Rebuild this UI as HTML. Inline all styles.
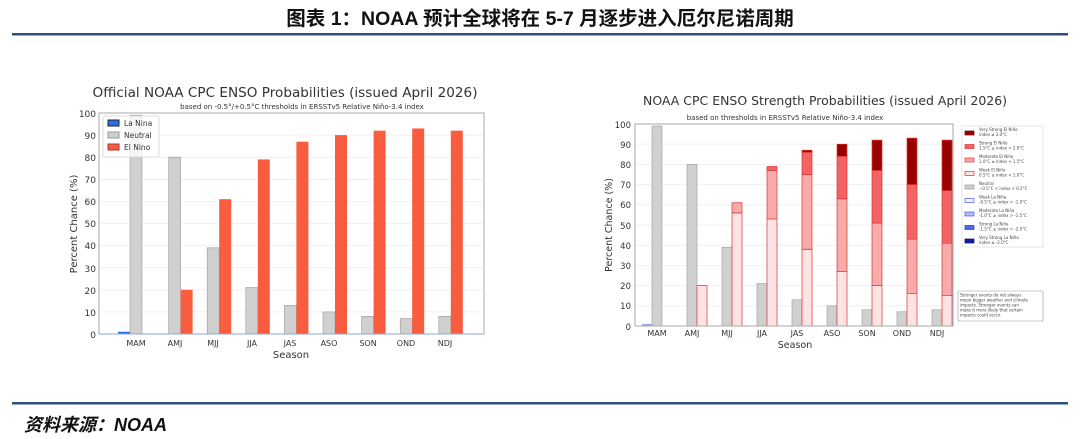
<!DOCTYPE html>
<html><head><meta charset="utf-8"><style>
body{margin:0;width:1080px;height:439px;background:#fff;overflow:hidden}
svg{display:block}
.t{font-family:"DejaVu Sans","Liberation Sans",sans-serif}
.c{font-family:"Liberation Sans","Noto Sans CJK SC",sans-serif}
</style></head><body>
<svg width="1080" height="439" viewBox="0 0 1080 439" xmlns="http://www.w3.org/2000/svg">
<text x="540" y="25" text-anchor="middle" class="c" font-size="19.5" font-weight="bold" fill="#111">图表 1：NOAA 预计全球将在 5-7 月逐步进入厄尔尼诺周期</text>
<rect x="12" y="33" width="1056" height="2.5" fill="#2f4f7a"/>
<rect x="12" y="402" width="1056" height="2.5" fill="#2f4f7a"/>
<text x="24" y="431" class="c" font-size="18" font-weight="bold" font-style="italic" fill="#111">资料来源：NOAA</text>

<!-- LEFT CHART -->
<g class="t" fill="#333">
<text x="285" y="97" text-anchor="middle" font-size="13" textLength="385" lengthAdjust="spacingAndGlyphs">Official NOAA CPC ENSO Probabilities (issued April 2026)</text>
<text x="302" y="109" text-anchor="middle" font-size="7">based on -0.5°/+0.5°C thresholds in ERSSTv5 Relative Niño-3.4 index</text>
</g>
<g stroke="#eee" stroke-width="0.8">
<line x1="99" x2="484" y1="135.1" y2="135.1"/><line x1="99" x2="484" y1="157.2" y2="157.2"/><line x1="99" x2="484" y1="179.3" y2="179.3"/><line x1="99" x2="484" y1="201.4" y2="201.4"/><line x1="99" x2="484" y1="223.5" y2="223.5"/><line x1="99" x2="484" y1="245.6" y2="245.6"/><line x1="99" x2="484" y1="267.7" y2="267.7"/><line x1="99" x2="484" y1="289.8" y2="289.8"/><line x1="99" x2="484" y1="311.9" y2="311.9"/>
</g>
<g transform="translate(0,334) scale(1,-2.21)">
<g fill="#d0d0d0" stroke="#999" stroke-width="0.6">
<rect x="130" y="0" width="12" height="99" vector-effect="non-scaling-stroke"/>
<rect x="168.6" y="0" width="12" height="80" vector-effect="non-scaling-stroke"/>
<rect x="207.2" y="0" width="12" height="39" vector-effect="non-scaling-stroke"/>
<rect x="245.8" y="0" width="12" height="21" vector-effect="non-scaling-stroke"/>
<rect x="284.4" y="0" width="12" height="13" vector-effect="non-scaling-stroke"/>
<rect x="323" y="0" width="12" height="10" vector-effect="non-scaling-stroke"/>
<rect x="361.6" y="0" width="12" height="8" vector-effect="non-scaling-stroke"/>
<rect x="400.2" y="0" width="12" height="7" vector-effect="non-scaling-stroke"/>
<rect x="438.8" y="0" width="12" height="8" vector-effect="non-scaling-stroke"/>
</g>
<g fill="#fa5c3f">
<rect x="180.6" y="0" width="12" height="20"/>
<rect x="219.2" y="0" width="12" height="61"/>
<rect x="257.8" y="0" width="12" height="79"/>
<rect x="296.4" y="0" width="12" height="87"/>
<rect x="335" y="0" width="12" height="90"/>
<rect x="373.6" y="0" width="12" height="92"/>
<rect x="412.2" y="0" width="12" height="93"/>
<rect x="450.8" y="0" width="12" height="92"/>
</g>
<rect x="118" y="0" width="12" height="1" fill="#2e6fe0"/>
</g>
<rect x="99" y="113" width="385" height="221" fill="none" stroke="#aaa" stroke-width="1"/>
<line x1="99" x2="484" y1="334" y2="334" stroke="#8fa8d0" stroke-width="1"/>
<rect x="103" y="116" width="56" height="41" rx="2" fill="#fff" fill-opacity="0.8" stroke="#ddd"/>
<rect x="108" y="120" width="11" height="6" fill="#2e6fe0" stroke="#224"/>
<rect x="108" y="132" width="11" height="6" fill="#d0d0d0" stroke="#999"/>
<rect x="108" y="144" width="11" height="6" fill="#fa5c3f" stroke="#a33"/>
<g class="t" font-size="7.5" fill="#333">
<text x="124" y="126">La Nina</text><text x="124" y="138">Neutral</text><text x="124" y="150">El Nino</text>
</g>
<g class="t" font-size="9" fill="#333" text-anchor="end">
<text x="96" y="117">100</text><text x="96" y="139">90</text><text x="96" y="161">80</text><text x="96" y="183">70</text><text x="96" y="205">60</text><text x="96" y="227">50</text><text x="96" y="249">40</text><text x="96" y="272">30</text><text x="96" y="294">20</text><text x="96" y="316">10</text><text x="96" y="338">0</text>
</g>
<g class="t" font-size="8" fill="#333" text-anchor="middle">
<text x="136" y="346">MAM</text><text x="175" y="346">AMJ</text><text x="213" y="346">MJJ</text><text x="252" y="346">JJA</text><text x="290" y="346">JAS</text><text x="329" y="346">ASO</text><text x="368" y="346">SON</text><text x="406" y="346">OND</text><text x="445" y="346">NDJ</text>
<text x="291" y="358" font-size="10">Season</text>
</g>
<text class="t" font-size="10" fill="#333" text-anchor="middle" transform="translate(77,224) rotate(-90)">Percent Chance (%)</text>

<!-- RIGHT CHART -->
<g class="t" fill="#333">
<text x="825" y="105" text-anchor="middle" font-size="12.5" textLength="364" lengthAdjust="spacingAndGlyphs">NOAA CPC ENSO Strength Probabilities (issued April 2026)</text>
<text x="785" y="120" text-anchor="middle" font-size="7">based on thresholds in ERSSTv5 Relative Niño-3.4 index</text>
</g>
<g stroke="#eee" stroke-width="0.8">
<line x1="635" x2="953" y1="144.2" y2="144.2"/><line x1="635" x2="953" y1="164.4" y2="164.4"/><line x1="635" x2="953" y1="184.6" y2="184.6"/><line x1="635" x2="953" y1="204.8" y2="204.8"/><line x1="635" x2="953" y1="225" y2="225"/><line x1="635" x2="953" y1="245.2" y2="245.2"/><line x1="635" x2="953" y1="265.4" y2="265.4"/><line x1="635" x2="953" y1="285.6" y2="285.6"/><line x1="635" x2="953" y1="305.8" y2="305.8"/>
</g>
<g transform="translate(0,326) scale(1,-2.02)">
<g fill="#d0d0d0" stroke="#999" stroke-width="0.6">
<rect x="652" y="0" width="10" height="99" vector-effect="non-scaling-stroke"/>
<rect x="687" y="0" width="10" height="80" vector-effect="non-scaling-stroke"/>
<rect x="722" y="0" width="10" height="39" vector-effect="non-scaling-stroke"/>
<rect x="757" y="0" width="10" height="21" vector-effect="non-scaling-stroke"/>
<rect x="792" y="0" width="10" height="13" vector-effect="non-scaling-stroke"/>
<rect x="827" y="0" width="10" height="10" vector-effect="non-scaling-stroke"/>
<rect x="862" y="0" width="10" height="8" vector-effect="non-scaling-stroke"/>
<rect x="897" y="0" width="10" height="7" vector-effect="non-scaling-stroke"/>
<rect x="932" y="0" width="10" height="8" vector-effect="non-scaling-stroke"/>
</g>
<g stroke="#d33" stroke-width="0.7">
<g fill="#fde3e3">
<rect x="697" y="0" width="10" height="20" vector-effect="non-scaling-stroke"/>
<rect x="732" y="0" width="10" height="56" vector-effect="non-scaling-stroke"/>
<rect x="767" y="0" width="10" height="53" vector-effect="non-scaling-stroke"/>
<rect x="802" y="0" width="10" height="38" vector-effect="non-scaling-stroke"/>
<rect x="837" y="0" width="10" height="27" vector-effect="non-scaling-stroke"/>
<rect x="872" y="0" width="10" height="20" vector-effect="non-scaling-stroke"/>
<rect x="907" y="0" width="10" height="16" vector-effect="non-scaling-stroke"/>
<rect x="942" y="0" width="10" height="15" vector-effect="non-scaling-stroke"/>
</g>
<g fill="#f9aaaa">
<rect x="732" y="56" width="10" height="5" vector-effect="non-scaling-stroke"/>
<rect x="767" y="53" width="10" height="24" vector-effect="non-scaling-stroke"/>
<rect x="802" y="38" width="10" height="37" vector-effect="non-scaling-stroke"/>
<rect x="837" y="27" width="10" height="36" vector-effect="non-scaling-stroke"/>
<rect x="872" y="20" width="10" height="31" vector-effect="non-scaling-stroke"/>
<rect x="907" y="16" width="10" height="27" vector-effect="non-scaling-stroke"/>
<rect x="942" y="15" width="10" height="26" vector-effect="non-scaling-stroke"/>
</g>
<g fill="#f26464">
<rect x="767" y="77" width="10" height="2" vector-effect="non-scaling-stroke"/>
<rect x="802" y="75" width="10" height="11" vector-effect="non-scaling-stroke"/>
<rect x="837" y="63" width="10" height="21" vector-effect="non-scaling-stroke"/>
<rect x="872" y="51" width="10" height="26" vector-effect="non-scaling-stroke"/>
<rect x="907" y="43" width="10" height="27" vector-effect="non-scaling-stroke"/>
<rect x="942" y="41" width="10" height="26" vector-effect="non-scaling-stroke"/>
</g>
<g fill="#990000">
<rect x="802" y="86" width="10" height="1" vector-effect="non-scaling-stroke"/>
<rect x="837" y="84" width="10" height="6" vector-effect="non-scaling-stroke"/>
<rect x="872" y="77" width="10" height="15" vector-effect="non-scaling-stroke"/>
<rect x="907" y="70" width="10" height="23" vector-effect="non-scaling-stroke"/>
<rect x="942" y="67" width="10" height="25" vector-effect="non-scaling-stroke"/>
</g>
</g>
<rect x="642" y="0" width="10" height="1" fill="#9aa6ee"/>
</g>
<rect x="635" y="124" width="318" height="202" fill="none" stroke="#aaa" stroke-width="1"/>
<g class="t" font-size="8.5" fill="#333" text-anchor="end">
<text x="631" y="128">100</text><text x="631" y="148">90</text><text x="631" y="168">80</text><text x="631" y="188">70</text><text x="631" y="208">60</text><text x="631" y="229">50</text><text x="631" y="249">40</text><text x="631" y="269">30</text><text x="631" y="289">20</text><text x="631" y="309">10</text><text x="631" y="330">0</text>
</g>
<g class="t" font-size="8" fill="#333" text-anchor="middle">
<text x="657" y="336">MAM</text><text x="692" y="336">AMJ</text><text x="727" y="336">MJJ</text><text x="762" y="336">JJA</text><text x="797" y="336">JAS</text><text x="832" y="336">ASO</text><text x="867" y="336">SON</text><text x="902" y="336">OND</text><text x="937" y="336">NDJ</text>
<text x="795" y="348" font-size="9.5">Season</text>
</g>
<text class="t" font-size="9.5" fill="#333" text-anchor="middle" transform="translate(612,225) rotate(-90)">Percent Chance (%)</text>
<rect x="962" y="126" width="81" height="121" fill="#fff" stroke="#e4e4e4"/>
<g stroke-width="0.7">
<rect x="965" y="131" width="9" height="4" fill="#990000" stroke="#600"/>
<rect x="965" y="144.5" width="9" height="4" fill="#f26464" stroke="#d33"/>
<rect x="965" y="158" width="9" height="4" fill="#f9aaaa" stroke="#d33"/>
<rect x="965" y="171.5" width="9" height="4" fill="#fde3e3" stroke="#d33"/>
<rect x="965" y="185" width="9" height="4" fill="#d0d0d0" stroke="#999"/>
<rect x="965" y="198.5" width="9" height="4" fill="#f0f2ff" stroke="#4a5ae0"/>
<rect x="965" y="212" width="9" height="4" fill="#b0bdf5" stroke="#4a5ae0"/>
<rect x="965" y="225.5" width="9" height="4" fill="#4a6ae8" stroke="#2040c0"/>
<rect x="965" y="239" width="9" height="4" fill="#1020a0" stroke="#001070"/>
</g>
<g class="t" font-size="4" fill="#444">
<text x="979" y="131">Very Strong El Niño</text><text x="979" y="136">index ≥ 2.0°C</text>
<text x="979" y="144.5">Strong El Niño</text><text x="979" y="149.5">1.5°C ≤ index &lt; 2.0°C</text>
<text x="979" y="158">Moderate El Niño</text><text x="979" y="163">1.0°C ≤ index &lt; 1.5°C</text>
<text x="979" y="171.5">Weak El Niño</text><text x="979" y="176.5">0.5°C ≤ index &lt; 1.0°C</text>
<text x="979" y="185">Neutral</text><text x="979" y="190">−0.5°C &lt; index &lt; 0.5°C</text>
<text x="979" y="198.5">Weak La Niña</text><text x="979" y="203.5">-0.5°C ≥ index &gt; -1.0°C</text>
<text x="979" y="212">Moderate La Niña</text><text x="979" y="217">-1.0°C ≥ index &gt; -1.5°C</text>
<text x="979" y="225.5">Strong La Niña</text><text x="979" y="230.5">-1.5°C ≥ index &gt; -2.0°C</text>
<text x="979" y="239">Very Strong La Niña</text><text x="979" y="244">index ≤ -2.0°C</text>
</g>
<rect x="958" y="291" width="85" height="30" fill="#fff" stroke="#999" stroke-width="0.6" rx="1"/>
<g class="t" font-size="4" fill="#444">
<text x="960" y="296.5">Stronger events do not always</text>
<text x="960" y="301.5">mean bigger weather and climate</text>
<text x="960" y="306.5">impacts. Stronger events can</text>
<text x="960" y="311.5">make it more likely that certain</text>
<text x="960" y="316.5">impacts could occur.</text>
</g>
</svg>
</body></html>
